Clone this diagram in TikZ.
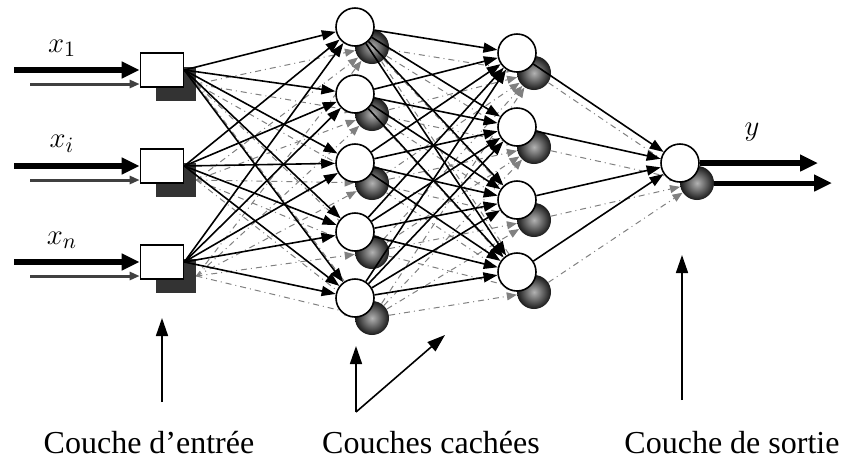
\documentclass[tikz,border=0pt]{standalone}
\usepackage{fontspec}
\setmainfont{Liberation Serif}
\usetikzlibrary{arrows.meta,positioning}

\begin{document}
\begin{tikzpicture}[x=0.5pt,y=-0.5pt,
        lien/.style={-{Triangle[length=7pt,width=5pt]},line width=0.8pt},
        lienombre/.style={-{Triangle[length=5pt,width=4pt]},black!50,line width=0.5pt,dash dot},
        grosse/.style={-{Triangle[length=9pt,width=8pt]},line width=3pt},
        bas/.style={-{Triangle[length=9pt,width=6pt]},line width=0.8pt},
        neurone/.style={circle,draw,line width=0.8pt,fill=white,minimum size=19pt,inner sep=0pt},
        ombre/.style={circle,inner sep=0pt,minimum size=17pt,inner color=black!30,outer color=black!90},
        boite/.style={rectangle,draw,line width=0.8pt,fill=white,minimum width=21.5pt,minimum height=17pt,inner sep=0pt},
        boiteombre/.style={rectangle,fill=black!80,minimum width=20pt,minimum height=17pt,inner sep=0pt},
        titre/.style={font=\fontsize{16}{19}\selectfont,anchor=base}]
        \useasboundingbox (0,0) rectangle (841,457);
        % x position of each layer
        \pgfmathsetmacro{\xe}{162} % input layer
        \pgfmathsetmacro{\xa}{355} % first hidden layer
        \pgfmathsetmacro{\xb}{517} % second hidden layer
        \pgfmathsetmacro{\xsortie}{680} % output layer
        % Shadows, shifted to the lower right
        \foreach \i/\y in {1/70,2/166,3/262}
            \node[boiteombre] (es\i) at (\xe+14,\y+14) {};
        \foreach \j/\y in {1/27,2/94,3/163,4/232,5/298}
            \node[ombre] (as\j) at (\xa+17,\y+20) {};
        \foreach \k/\y in {1/53,2/127,3/200,4/272}
            \node[ombre] (bs\k) at (\xb+17,\y+20) {};
        \node[ombre] (ss) at (\xsortie+17,183) {};
        % Connections between the shadows
        \foreach \i in {1,2,3}
            \foreach \j in {1,...,5}
                \draw[lienombre] (es\i.east) -- (as\j);
        \foreach \j in {1,...,5}
            \foreach \k in {1,...,4}
                \draw[lienombre] (as\j) -- (bs\k);
        \foreach \k in {1,...,4}
            \draw[lienombre] (bs\k) -- (ss);
        % The neurons
        \foreach \i/\y in {1/70,2/166,3/262}
            \node[boite] (e\i) at (\xe,\y) {};
        \foreach \j/\y in {1/27,2/94,3/163,4/232,5/298}
            \node[neurone] (a\j) at (\xa,\y) {};
        \foreach \k/\y in {1/53,2/127,3/200,4/272}
            \node[neurone] (b\k) at (\xb,\y) {};
        \node[neurone] (s) at (\xsortie,163) {};
        % Connections
        \foreach \i in {1,2,3}
            \foreach \j in {1,...,5}
                \draw[lien] (e\i.east) -- (a\j);
        \foreach \j in {1,...,5}
            \foreach \k in {1,...,4}
                \draw[lien] (a\j) -- (b\k);
        \foreach \k in {1,...,4}
            \draw[lien] (b\k) -- (s);
        % Inputs
        \foreach \i/\y/\nom in {1/70/1,2/166/i,3/262/n}{
            \coordinate (d\i) at (14,\y);
            \coordinate (ds\i) at (30,\y+14);
            \draw[grosse] (d\i) -- (e\i.west);
            \draw[-{Triangle[length=5pt,width=4pt]},line width=1.5pt,black!75] (ds\i) -- (ds\i -| e\i.west);
            \node[font=\fontsize{15}{18}\selectfont] (x\i) at (62,\y-22) {$x_\nom$};
        }
        % Output
        \coordinate (y1) at (818,163);
        \coordinate (y2) at (832,183);
        \draw[grosse] (s.east) -- (y1);
        \draw[grosse,line width=2.5pt] (ss.east) -- (y2);
        \node[font=\fontsize{15}{18}\selectfont] (ylab) at (752,132) {$y$};
        % Layer names
        \node[titre] (tentree) at (149,453) {Couche d’entrée};
        \node[titre] (tcachees) at (431,453) {Couches cachées};
        \node[titre] (tsortie) at (732,453) {Couche de sortie};
        \coordinate (pe) at (162,402);
        \coordinate (qe) at (162,318);
        \coordinate (pc) at (356,412);
        \coordinate (qc) at (356,346);
        \coordinate (rc) at (445,335);
        \coordinate (ps) at (682,400);
        \coordinate (qs) at (682,255);
        \draw[bas] (pe) -- (qe);
        \draw[bas] (pc) -- (qc);
        \draw[bas] (pc) -- (rc);
        \draw[bas] (ps) -- (qs);
    \end{tikzpicture}
\end{document}
